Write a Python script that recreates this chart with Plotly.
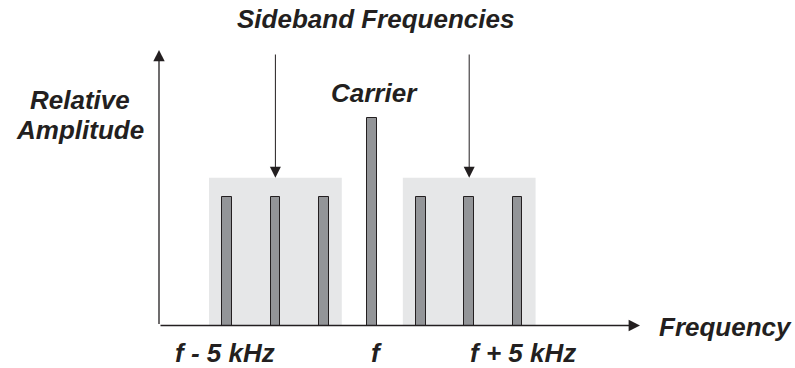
import plotly.graph_objects as go

# ---- spectrum data (carrier at 0, sideband lines at unit spacing) ----
sideband_lower = [-3, -2, -1]
sideband_upper = [1, 2, 3]
carrier_pos = [0]
sideband_amp = 0.62          # relative to carrier
carrier_amp = 1.0
band_top = 0.71              # height of the shaded sideband regions

tick_positions = [-3, 0, 3]
tick_labels = ["f - 5 kHz", "f", "f + 5 kHz"]

# ---- page geometry: map pixels <-> data units ----
W, H = 795, 368
X0, PX_PER_X = 372.3, 48.45   # pixel column of f, pixels per unit
Y0, PX_PER_Y = 325.5, 208.0   # pixel row of zero amplitude, pixels per unit


def px2x(px):
    return (px - X0) / PX_PER_X


def px2y(py):
    return (Y0 - py) / PX_PER_Y


INK = "#231f20"
BAR_FILL = "#939598"
BAND_FILL = "#e6e7e8"
FONT = dict(family="Liberation Sans, Arial, sans-serif", size=26,
            color=INK, weight="bold", style="italic")

fig = go.Figure()

# Spectral lines
xs = sideband_lower + carrier_pos + sideband_upper
ys = [sideband_amp] * len(sideband_lower) + [carrier_amp] + [sideband_amp] * len(sideband_upper)
fig.add_trace(go.Bar(
    x=xs, y=ys, width=0.2,
    marker=dict(color=BAR_FILL, line=dict(color=INK, width=1)),
    hoverinfo="skip", showlegend=False,
))

# Shaded sideband regions
pad = 0.37
for band in (sideband_lower, sideband_upper):
    fig.add_shape(type="rect", xref="x", yref="y", layer="below",
                  x0=min(band) - pad, x1=max(band) + pad, y0=0, y1=band_top,
                  fillcolor=BAND_FILL, line=dict(width=0))

annotations = []

# Axes drawn as arrows
x_axis_left = px2x(159)
annotations.append(dict(x=px2x(640), y=0, ax=x_axis_left, ay=0,
                        xref="x", yref="y", axref="x", ayref="y",
                        text="", showarrow=True, arrowhead=2, arrowsize=1.75,
                        arrowwidth=1.3, arrowcolor=INK, standoff=0))
annotations.append(dict(x=x_axis_left, y=px2y(50), ax=x_axis_left, ay=0,
                        xref="x", yref="y", axref="x", ayref="y",
                        text="", showarrow=True, arrowhead=2, arrowsize=1.75,
                        arrowwidth=1.3, arrowcolor=INK, standoff=0))

# Arrows pointing at each sideband group
for band in (sideband_lower, sideband_upper):
    mid = band[len(band) // 2]
    annotations.append(dict(x=mid, y=band_top, ax=mid, ay=px2y(53),
                            xref="x", yref="y", axref="x", ayref="y",
                            text="", showarrow=True, arrowhead=2, arrowsize=2.2,
                            arrowwidth=1, arrowcolor=INK, standoff=0))


# Labels
def label(text, xpx, ypx, xanchor="center"):
    annotations.append(dict(x=px2x(xpx), y=px2y(ypx), xref="x", yref="y",
                            text=text, showarrow=False, font=FONT,
                            xanchor=xanchor, yanchor="middle"))


label("Sideband Frequencies", 375.8, 19)
label("Carrier", 374, 92.5)
label("Relative", 80, 100.2)
label("Amplitude", 80, 129.8)
label("Frequency", 656.7, 327, xanchor="left")

# Frequency tick labels under the spectrum
for pos, txt, shift in zip(tick_positions, tick_labels, [-2, 4, 5]):
    annotations.append(dict(x=pos, y=px2y(353), xref="x", yref="y",
                            text=txt, showarrow=False, font=FONT,
                            xanchor="center", yanchor="middle", xshift=shift))

fig.update_layout(
    width=W, height=H,
    margin=dict(l=0, r=0, t=0, b=0),
    paper_bgcolor="white", plot_bgcolor="white",
    xaxis=dict(range=[px2x(0), px2x(W)], visible=False, fixedrange=True),
    yaxis=dict(range=[px2y(H), px2y(0)], visible=False, fixedrange=True),
    annotations=annotations,
    bargap=0,
)

fig.write_html("out.html")
